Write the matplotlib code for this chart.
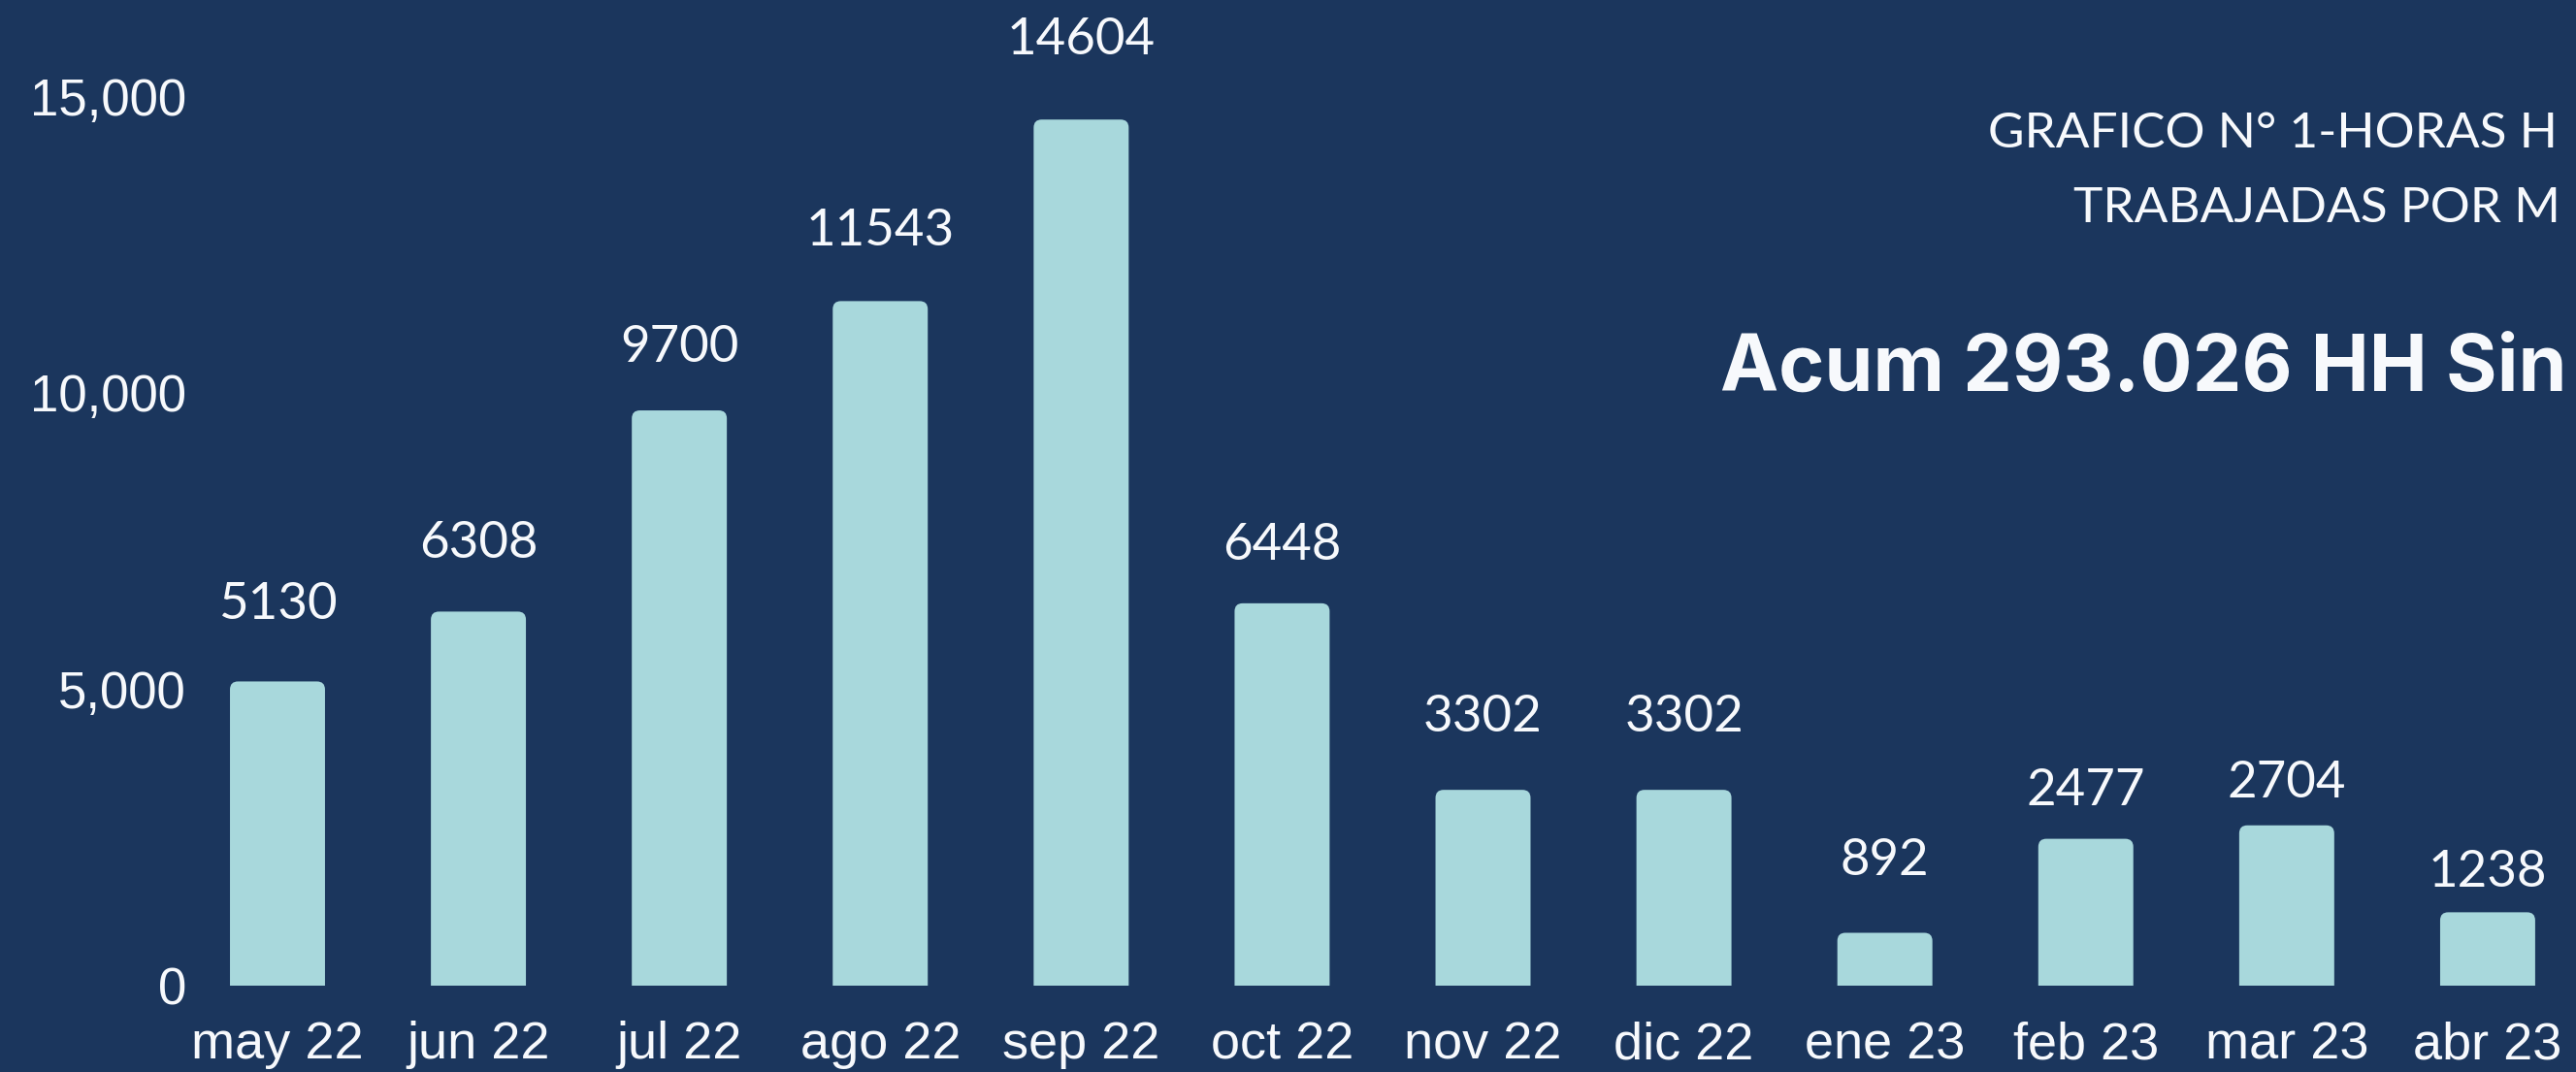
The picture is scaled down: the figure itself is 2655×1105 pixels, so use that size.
import numpy as np
import matplotlib
matplotlib.use("Agg")
import matplotlib.pyplot as plt
from matplotlib.patches import FancyBboxPatch
from matplotlib.ticker import FuncFormatter

# data
months = ["may 22", "jun 22", "jul 22", "ago 22", "sep 22", "oct 22",
          "nov 22", "dic 22", "ene 23", "feb 23", "mar 23", "abr 23"]
hours = [5130, 6308, 9700, 11543, 14604, 6448, 3302, 3302, 892, 2477, 2704, 1238]
yticks = [0, 5000, 10000, 15000]

# gap (px) between bar top and label baseline, the source places them by hand
label_gap = [64, 55, 50, 57, 67, 45, 60, 60, 60, 35, 29, 26]

BG = "#1B365D"
BAR = "#A8D8DC"
TXT = "#F7F9FC"
DPI = 100

fig = plt.figure(figsize=(26.55, 11.05), dpi=DPI, facecolor=BG)
# axes runs a bit past the right edge, as in the original crop
ax = fig.add_axes([0.0734, 0.0805, 0.9313, 0.8852], facecolor=BG)

x = np.arange(len(months))
bars = ax.bar(x, hours, width=0.473, color=BAR)
ax.set_xlim(-0.44, 11.5)
ax.set_ylim(0, 16000)

# rounded tops: swap each rectangle for a rounded box
asp = (16000 / (0.8852 * 1105)) / (11.94 / (0.9313 * 2655))
for b in bars:
    b.set_visible(False)
    p = FancyBboxPatch((b.get_x(), -600), b.get_width(), b.get_height() + 600,
                       boxstyle="round,pad=0,rounding_size=0.04",
                       mutation_aspect=asp, facecolor=BAR, edgecolor="none")
    ax.add_patch(p)

# value labels
for xi, h, g in zip(x, hours, label_gap):
    ax.annotate(str(h), (xi, h), xytext=(0, g * 72 / DPI), textcoords="offset points",
                ha="center", va="baseline", color=TXT, fontsize=38,
                family="Lato")

ax.set_yticks(yticks)
ax.yaxis.set_major_formatter(FuncFormatter(lambda v, p: "{:,.0f}".format(v)))
ax.set_xticks(x, months)
ax.tick_params(axis="y", length=0, pad=2, labelsize=38, labelcolor=TXT)
ax.tick_params(axis="x", length=0, pad=26, labelsize=39, labelcolor=TXT)
for lab in ax.get_yticklabels() + ax.get_xticklabels():
    lab.set_family("Liberation Sans")
for s in ax.spines.values():
    s.set_visible(False)

# titles, only the part that shows inside the picture
fig.text(0.7718, 0.8624, "GRAFICO N° 1-HORAS H", color=TXT, fontsize=37,
         family="Lato", va="baseline", ha="left")
fig.text(0.8050, 0.7931, "TRABAJADAS POR M", color=TXT, fontsize=37,
         family="Lato", va="baseline", ha="left")
fig.text(0.6678, 0.6353, "Acum 293.026 HH Sin", color=TXT, fontsize=58,
         family="Inter", fontweight="bold", va="baseline", ha="left")

fig.savefig("out.png", dpi=DPI, facecolor=BG)
